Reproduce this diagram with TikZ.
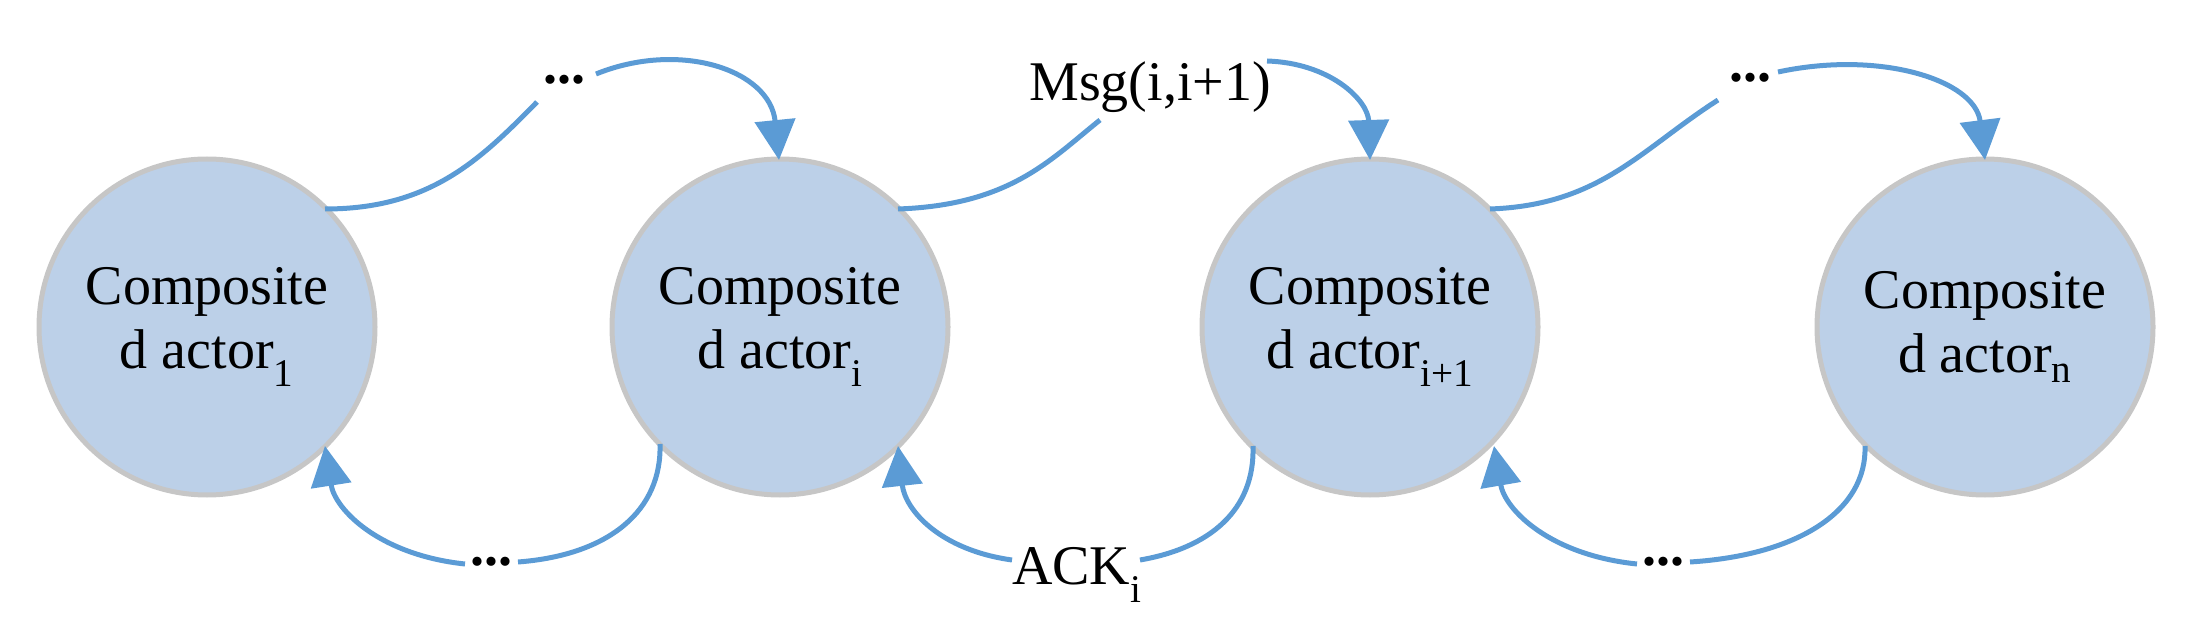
\documentclass[tikz,border=0pt]{standalone}
\usepackage{fontspec}
\setmainfont{Liberation Serif}
\usetikzlibrary{arrows.meta}
\definecolor{edgeblue}{HTML}{5B9BD5}
\definecolor{nodefill}{HTML}{BCD0E8}
\definecolor{nodeline}{HTML}{C6C6C6}
\begin{document}
\begin{tikzpicture}[x=1pt,y=-1pt,
  actor/.style={circle,minimum size=336pt,inner sep=0pt,fill=nodefill,draw=nodeline,line width=5pt,align=center,font=\fontsize{56}{64}\selectfont},
  lbl/.style={inner sep=0pt,font=\fontsize{56}{64}\selectfont},
  dots/.style={inner sep=0pt,font=\fontsize{56}{64}\selectfont\bfseries},
  conn/.style={draw=edgeblue,line width=5pt},
  arr/.style={conn,-{Triangle[length=40pt,width=40pt]}}]
\useasboundingbox (0,0) rectangle (2204,644);
\node[actor] (c1) at (207,327) {Composite\\d actor\textsubscript{1}};
\node[actor] (c2) at (780,327) {Composite\\d actor\textsubscript{i}};
\node[actor] (c3) at (1370,327) {Composite\\d actor\textsubscript{i+1}};
\node[actor] (c4) at (1985,327) {Composite\\d actor\textsubscript{n}};
% top labels
\node[dots] (d1) at (564,80) {...};
\node[lbl] (m) at (1150,87) {Msg(i,i+1)};
\node[dots] (d3) at (1750,78) {...};
% bottom labels
\node[dots] (d2) at (491,562) {...};
\node[lbl] (a) at (1077,575) {ACK\textsubscript{i}};
\node[dots] (d4) at (1663,562) {...};
% top connectors
\coordinate (s1) at (325,209);
\coordinate (e1a) at (537,102);
\coordinate (e1b) at (596,74);
\coordinate (t2) at (779,160);
\draw[conn] (s1) .. controls (430,209) and (480,160) .. (e1a);
\draw[arr] (e1b) .. controls (680,40) and (770,70) .. (t2);
\coordinate (s2) at (898,209);
\coordinate (m1) at (1100,120);
\coordinate (m2) at (1267,61);
\coordinate (t3) at (1370,160);
\draw[conn] (s2) .. controls (1010,205) and (1050,160) .. (m1);
\draw[arr] (m2) .. controls (1330,63) and (1368,100) .. (t3);
\coordinate (s3) at (1490,209);
\coordinate (e3a) at (1718,100);
\coordinate (e3b) at (1778,72);
\coordinate (t4) at (1985,160);
\draw[conn] (s3) .. controls (1600,205) and (1640,150) .. (e3a);
\draw[arr] (e3b) .. controls (1880,50) and (1975,80) .. (t4);
% bottom connectors
\coordinate (b2) at (660,444);
\coordinate (g2a) at (518,562);
\coordinate (g2b) at (465,564);
\coordinate (t1) at (325,446);
\draw[conn] (b2) .. controls (662,510) and (610,555) .. (g2a);
\draw[arr] (g2b) .. controls (380,555) and (335,510) .. (t1);
\coordinate (b3) at (1253,446);
\coordinate (ga) at (1140,560);
\coordinate (gb) at (1012,560);
\coordinate (tt2) at (898,446);
\draw[conn] (b3) .. controls (1255,510) and (1210,548) .. (ga);
\draw[arr] (gb) .. controls (940,550) and (905,510) .. (tt2);
\coordinate (b4) at (1865,446);
\coordinate (g4a) at (1690,562);
\coordinate (g4b) at (1637,564);
\coordinate (tt3) at (1494,446);
\draw[conn] (b4) .. controls (1867,510) and (1800,555) .. (g4a);
\draw[arr] (g4b) .. controls (1550,555) and (1505,510) .. (tt3);
\end{tikzpicture}
\end{document}
